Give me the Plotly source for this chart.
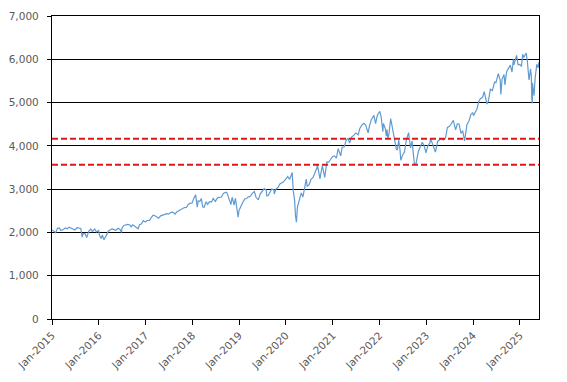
import plotly.graph_objects as go

dates = [
 "2015-01-02","2015-01-15","2015-01-30","2015-02-13","2015-02-27","2015-03-11","2015-03-31","2015-04-15","2015-04-30","2015-05-15","2015-05-29","2015-06-15","2015-06-29","2015-07-15","2015-07-31","2015-08-14","2015-08-24","2015-08-31","2015-09-15","2015-09-29","2015-10-15","2015-10-30","2015-11-13","2015-11-30","2015-12-14","2015-12-31",
 "2016-01-08","2016-01-20","2016-01-29","2016-02-11","2016-02-29","2016-03-15","2016-03-31","2016-04-15","2016-04-29","2016-05-13","2016-05-31","2016-06-15","2016-06-27","2016-06-30","2016-07-15","2016-07-29","2016-08-15","2016-08-31","2016-09-09","2016-09-22","2016-10-14","2016-11-04","2016-11-15","2016-11-30","2016-12-13","2016-12-30",
 "2017-01-13","2017-01-31","2017-02-15","2017-03-01","2017-03-15","2017-03-31","2017-04-13","2017-04-28","2017-05-16","2017-05-31","2017-06-15","2017-06-30","2017-07-14","2017-07-31","2017-08-18","2017-08-31","2017-09-15","2017-09-29","2017-10-16","2017-10-31","2017-11-15","2017-11-30","2017-12-15","2017-12-29",
 "2018-01-12","2018-01-26","2018-02-08","2018-02-15","2018-02-28","2018-03-12","2018-03-23","2018-04-02","2018-04-18","2018-04-30","2018-05-15","2018-05-31","2018-06-12","2018-06-29","2018-07-16","2018-07-31","2018-08-15","2018-08-31","2018-09-20","2018-09-28","2018-10-10","2018-10-29","2018-11-07","2018-11-23","2018-12-03","2018-12-14","2018-12-24","2018-12-31",
 "2019-01-15","2019-01-31","2019-02-15","2019-02-28","2019-03-15","2019-03-29","2019-04-15","2019-04-30","2019-05-13","2019-05-31","2019-06-14","2019-06-28","2019-07-15","2019-07-31","2019-08-05","2019-08-15","2019-08-30","2019-09-13","2019-09-30","2019-10-02","2019-10-15","2019-10-31","2019-11-15","2019-11-29","2019-12-13","2019-12-31",
 "2020-01-15","2020-01-31","2020-02-19","2020-02-28","2020-03-09","2020-03-16","2020-03-23","2020-03-31","2020-04-15","2020-04-30","2020-05-13","2020-05-29","2020-06-08","2020-06-15","2020-06-30","2020-07-15","2020-07-31","2020-08-14","2020-08-31","2020-09-02","2020-09-23","2020-09-30","2020-10-12","2020-10-30","2020-11-16","2020-11-30","2020-12-15","2020-12-31",
 "2021-01-15","2021-01-29","2021-02-12","2021-03-04","2021-03-15","2021-03-31","2021-04-15","2021-04-30","2021-05-12","2021-05-28","2021-06-15","2021-06-30","2021-07-19","2021-07-30","2021-08-16","2021-08-31","2021-09-15","2021-09-30","2021-10-04","2021-10-15","2021-10-29","2021-11-18","2021-12-01","2021-12-15","2021-12-29",
 "2022-01-03","2022-01-14","2022-01-27","2022-01-31","2022-02-15","2022-02-23","2022-02-28","2022-03-08","2022-03-15","2022-03-29","2022-04-14","2022-04-29","2022-05-12","2022-05-20","2022-05-31","2022-06-10","2022-06-16","2022-06-30","2022-07-15","2022-07-29","2022-08-16","2022-08-31","2022-09-12","2022-09-30","2022-10-12","2022-10-31","2022-11-15","2022-11-30","2022-12-13","2022-12-30",
 "2023-01-13","2023-01-31","2023-02-02","2023-02-15","2023-02-28","2023-03-13","2023-03-31","2023-04-14","2023-04-28","2023-05-15","2023-05-31","2023-06-15","2023-06-30","2023-07-14","2023-07-31","2023-08-18","2023-08-31","2023-09-14","2023-09-29","2023-10-12","2023-10-27","2023-10-31","2023-11-15","2023-11-30","2023-12-14","2023-12-29",
 "2024-01-05","2024-01-16","2024-01-31","2024-02-15","2024-02-29","2024-03-15","2024-03-28","2024-04-19","2024-04-30","2024-05-15","2024-05-31","2024-06-17","2024-06-28","2024-07-16","2024-07-31","2024-08-05","2024-08-15","2024-08-30","2024-09-06","2024-09-19","2024-09-30","2024-10-18","2024-10-31","2024-11-11","2024-11-15","2024-11-29","2024-12-06","2024-12-18","2024-12-31",
 "2025-01-13","2025-01-23","2025-01-31","2025-02-19","2025-02-28","2025-03-13","2025-03-25","2025-03-31","2025-04-04","2025-04-08","2025-04-09","2025-04-21","2025-04-30","2025-05-13","2025-05-23","2025-05-30",
]
values = [
 2058,2020,1995,2096,2104,2044,2068,2106,2086,2122,2107,2084,2058,2108,2104,2092,1893,1972,1978,1884,2024,2079,2023,2080,2012,2044,
 1922,1859,1940,1829,1932,2027,2060,2081,2065,2047,2097,2071,2001,2099,2161,2174,2184,2171,2128,2177,2133,2085,2180,2199,2271,2239,
 2275,2279,2350,2396,2385,2363,2329,2384,2400,2412,2433,2423,2459,2470,2425,2472,2500,2519,2557,2575,2578,2648,2675,2674,
 2786,2873,2581,2731,2714,2783,2588,2582,2708,2648,2711,2705,2786,2718,2798,2816,2818,2902,2931,2914,2785,2641,2813,2633,2790,2600,2351,2507,
 2611,2704,2775,2784,2822,2834,2907,2946,2812,2752,2887,2942,3014,2980,2844,2848,2926,3007,2977,2887,2996,3038,3120,3141,3168,3231,
 3290,3226,3386,2954,2747,2386,2237,2585,2783,2912,2820,3044,3232,3067,3100,3226,3271,3373,3500,3580,3237,3363,3535,3270,3627,3622,3695,3756,
 3768,3714,3935,3768,3969,3973,4124,4181,4063,4204,4247,4298,4258,4395,4480,4523,4480,4308,4300,4471,4605,4705,4513,4709,4793,
 4797,4662,4326,4516,4401,4225,4374,4170,4262,4632,4392,4132,3930,3901,4132,3901,3667,3785,3863,4130,4305,3955,4110,3586,3577,3872,3992,4080,4020,3840,
 3999,4077,4179,4090,3970,3855,4109,4137,4169,4136,4180,4425,4450,4505,4589,4370,4508,4505,4288,4350,4117,4194,4502,4568,4719,4770,
 4697,4766,4846,5030,5096,5117,5254,4967,5036,5308,5278,5473,5460,5667,5522,5186,5543,5648,5408,5713,5762,5864,5705,6001,5870,6032,6090,5872,5882,
 5836,6119,6040,6144,5955,5521,5777,5612,5074,4982,5457,5158,5569,5886,5802,5935,
]

ref_upper = 4162
ref_lower = 3561

tick_dates = ["2015-01-01","2016-01-01","2017-01-01","2018-01-01","2019-01-01","2020-01-01",
              "2021-01-01","2022-01-01","2023-01-01","2024-01-01","2025-01-01"]
tick_labels = ["Jan-2015","Jan-2016","Jan-2017","Jan-2018","Jan-2019","Jan-2020",
               "Jan-2021","Jan-2022","Jan-2023","Jan-2024","Jan-2025"]
y_ticks = [0,1000,2000,3000,4000,5000,6000,7000]

x_start = "2015-01-01"
x_end = dates[-1]

fig = go.Figure()
fig.add_trace(go.Scatter(x=dates, y=values, mode="lines",
                         line=dict(color="#5f9bd2", width=1.2), showlegend=False))
for v in (ref_upper, ref_lower):
    fig.add_trace(go.Scatter(x=[x_start, x_end], y=[v, v], mode="lines",
                             line=dict(color="#e0161a", width=2, dash="6px,3px"),
                             showlegend=False))

fig.update_layout(
    width=559, height=374,
    margin=dict(l=44, r=28, t=8, b=63),
    paper_bgcolor="white", plot_bgcolor="white",
    font=dict(family="DejaVu Sans, Verdana", size=10.5, color="#595959"),
    xaxis=dict(range=[x_start, x_end], tickvals=tick_dates, ticktext=tick_labels,
               tickangle=-45, showgrid=False, showline=True, linecolor="black",
               linewidth=1.3, mirror=True, ticks="outside", ticklen=5,
               tickcolor="black", tickwidth=1.3, zeroline=False, automargin=False),
    yaxis=dict(range=[0, 7000], tickvals=y_ticks, tickformat=",", showgrid=True,
               gridcolor="black", gridwidth=1.3, showline=True, linecolor="black",
               linewidth=1.3, mirror=True, ticks="outside", ticklen=4,
               tickcolor="black", tickwidth=1.3, zeroline=False, automargin=False,
               ticklabelstandoff=6),
)
fig.write_html("out.html")
